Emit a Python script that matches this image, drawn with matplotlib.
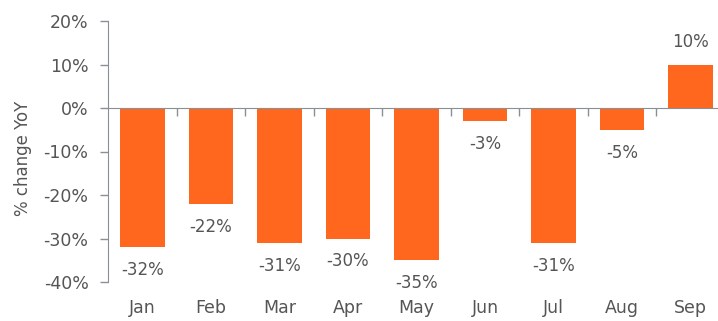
import numpy as np
import matplotlib.pyplot as plt
import matplotlib.transforms as mtransforms

meses = ['Jan', 'Feb', 'Mar', 'Apr', 'May', 'Jun', 'Jul', 'Aug', 'Sep']
cambio = [-32, -22, -31, -30, -35, -3, -31, -5, 10]   # % change YoY
yticks = [-40, -30, -20, -10, 0, 10, 20]

naranja = '#FF671F'
gris_txt = '#555555'
gris_eje = '#8a8f96'

plt.rcParams['font.family'] = ['DejaVu Sans']

fig = plt.figure(figsize=(7.18, 3.21), dpi=100)
# el eje x sigue un poco mas alla del borde derecho (se corta)
ax = fig.add_axes([108/718, 39/321, 617/718, 261/321])

x = np.arange(len(meses))
ax.bar(x, cambio, width=0.65, color=naranja, zorder=2)

# etiquetas de valor encima / debajo de cada barra
for xi, v in zip(x, cambio):
    if v < 0:
        ax.annotate('%d%%' % v, (xi, v), xytext=(0, -10), textcoords='offset points',
                    ha='center', va='top', fontsize=12, color=gris_txt)
    else:
        ax.annotate('%d%%' % v, (xi, v), xytext=(0, 10), textcoords='offset points',
                    ha='center', va='bottom', fontsize=12, color=gris_txt)

ax.set_ylim(-40, 20)
ax.set_xlim(-0.5, 8.5)
ax.set_yticks(yticks)
ax.set_yticklabels(['%d%%' % t for t in yticks], fontsize=12.5, color=gris_txt)
ax.tick_params(axis='y', length=6, color=gris_eje, width=1, pad=8)

# eje x en el cero, ticks entre categorias
ax.spines['bottom'].set_position(('data', 0))
ax.spines['bottom'].set_color(gris_eje)
ax.spines['left'].set_color(gris_eje)
ax.spines['top'].set_visible(False)
ax.spines['right'].set_visible(False)
ax.set_xticks(x[:-1] + 0.5)
ax.set_xticklabels([])
ax.tick_params(axis='x', length=6, color=gris_eje, width=1, direction='out')

# nombres de los meses abajo del grafico
trans = mtransforms.blended_transform_factory(ax.transData, ax.transAxes)
for xi, m in zip(x, meses):
    ax.text(xi, -0.1, m, transform=trans, ha='center', va='center',
            fontsize=12.5, color=gris_txt)

fig.text(23/718, (321-158)/321, '% change YoY', rotation=90, ha='center', va='center',
         fontsize=12, color=gris_txt)

plt.savefig('out.png', dpi=100)
